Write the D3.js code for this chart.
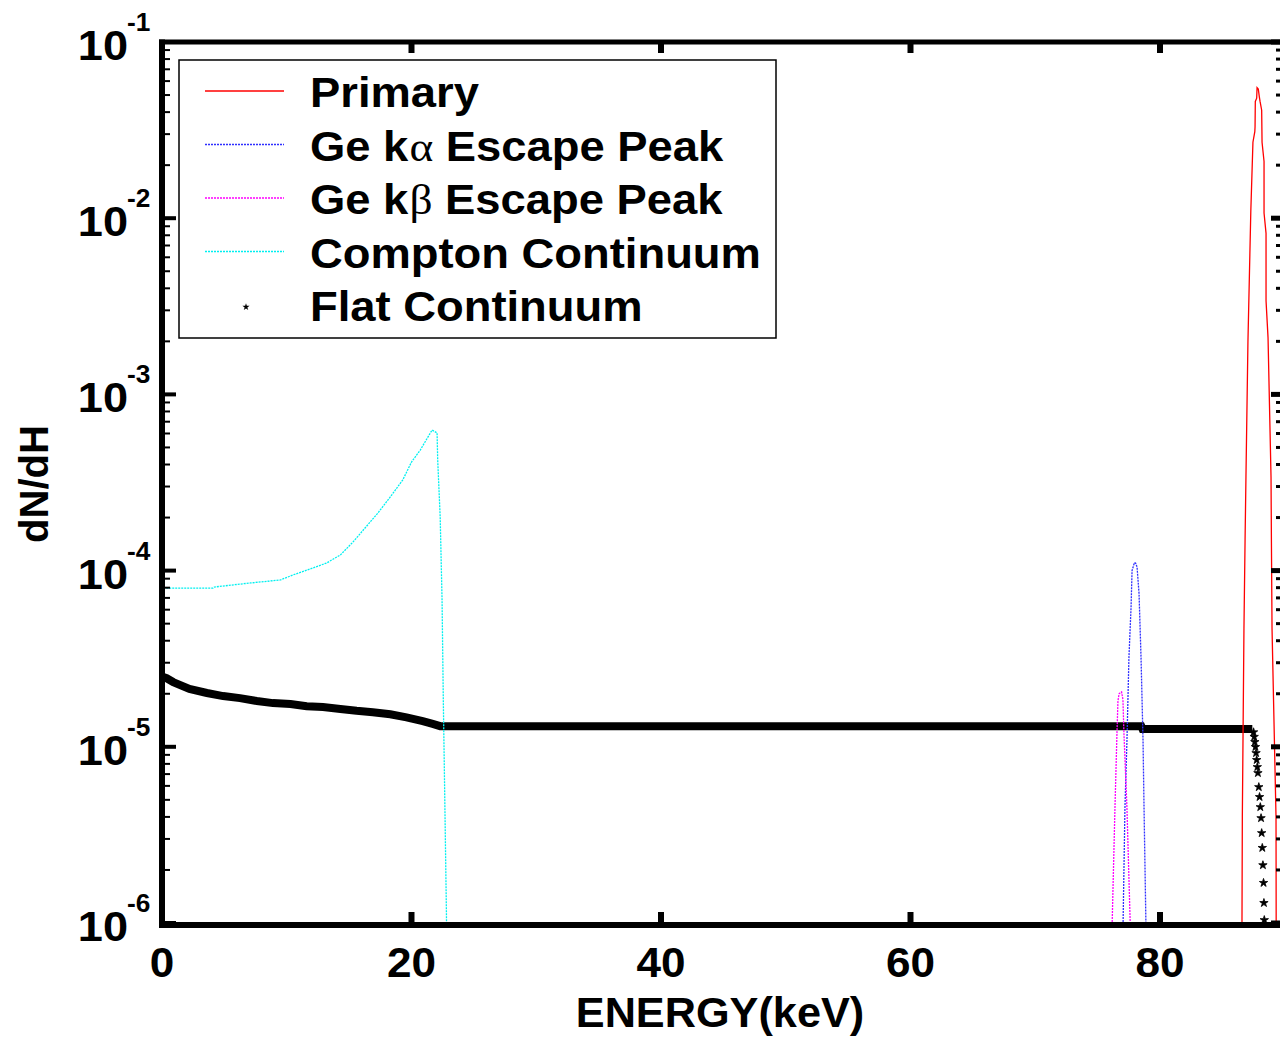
<!DOCTYPE html>
<html><head><meta charset="utf-8">
<script src="https://cdn.jsdelivr.net/npm/d3@7"></script>
<style>
body{margin:0;background:#fff}
svg{display:block}
text{font-family:"Liberation Sans",Arial,sans-serif;font-weight:bold;fill:#000}
</style>
</head><body>
<svg id="c" width="1280" height="1037"></svg>
<script>
// ---------------- data ----------------
const xTickValues = [0, 20, 40, 60, 80];
const yTickExponents = [-1, -2, -3, -4, -5, -6];
const legendLabels = ["Primary", "Ge k|α| Escape Peak", "Ge k|β| Escape Peak", "Compton Continuum", "Flat Continuum"];
const seriesColors = ["#ff0000", "#2f2fff", "#ff00ff", "#00f0f0", "#000000"];

const primaryEnergy = [86.50, 86.57, 86.60, 86.73, 86.82, 86.89, 87.05, 87.28, 87.45, 87.60, 87.62, 87.64, 87.75, 87.78, 87.88, 87.96, 88.02, 88.15, 88.18, 88.34, 88.34, 88.50, 88.50, 88.66, 88.90, 88.93, 88.98, 89.30, 89.32];
const primaryValue  = [5e-7, 9.4e-7, 4.0e-6, 4.7e-5, 1.5e-4, 3.4e-4, 2.0e-3, 1.1e-2, 2.7e-2, 3.1e-2, 3.3e-2, 4.6e-2, 4.8e-2, 5.5e-2, 5.4e-2, 4.9e-2, 4.6e-2, 4.1e-2, 2.7e-2, 2.1e-2, 1.07e-2, 8.2e-3, 3.4e-3, 2.1e-3, 3.4e-4, 1.5e-4, 4.7e-5, 4.0e-6, 5e-7];

const kaEnergy = [76.98, 77.03, 77.19, 77.35, 77.51, 77.68, 77.76, 77.95, 78.05, 78.16, 78.32, 78.48, 78.64, 78.72, 78.88, 78.92];
const kaValue  = [5e-7, 9e-7, 4.5e-6, 1.08e-5, 3.2e-5, 6.2e-5, 1.0e-4, 1.11e-4, 1.1e-4, 1.05e-4, 7.4e-5, 3.2e-5, 1.08e-5, 4.5e-6, 9e-7, 5e-7];

const kbEnergy = [76.12, 76.15, 76.39, 76.55, 76.63, 76.72, 76.92, 77.03, 77.11, 77.35, 77.63, 77.66];
const kbValue  = [5e-7, 9e-7, 4.5e-6, 1.19e-5, 1.82e-5, 2.0e-5, 2.05e-5, 1.85e-5, 1.19e-5, 4.5e-6, 9e-7, 5e-7];

const comptonEnergy = [0.0, 0.02, 0.1, 4.1, 4.2, 7.1, 9.5, 10.5, 12.1, 13.2, 14.3, 15.3, 17.3, 18.3, 19.3, 20.0, 20.7, 21.65, 22.05, 22.1, 22.3, 22.45, 22.55, 22.65, 22.8, 22.85];
const comptonValue  = [2.1e-5, 7.0e-5, 7.96e-5, 7.96e-5, 8.07e-5, 8.51e-5, 8.85e-5, 9.45e-5, 1.035e-4, 1.105e-4, 1.227e-4, 1.45e-4, 2.12e-4, 2.62e-4, 3.27e-4, 4.13e-4, 4.83e-4, 6.28e-4, 6.04e-4, 4.25e-4, 2.01e-4, 6.8e-5, 1.84e-5, 6.2e-6, 1.14e-6, 5e-7];

const flatEnergy = [0.05, 0.37, 0.9, 2.2, 3.6, 4.9, 6.25, 7.6, 8.9, 10.3, 11.6, 12.9, 14.3, 15.6, 16.9, 18.3, 19.6, 20.9, 21.7, 22.3, 50.0, 78.5, 78.6, 87.4];
const flatValue  = [2.5e-5, 2.45e-5, 2.33e-5, 2.13e-5, 2.02e-5, 1.94e-5, 1.89e-5, 1.82e-5, 1.77e-5, 1.75e-5, 1.70e-5, 1.68e-5, 1.64e-5, 1.60e-5, 1.57e-5, 1.53e-5, 1.47e-5, 1.40e-5, 1.35e-5, 1.31e-5, 1.31e-5, 1.31e-5, 1.26e-5, 1.26e-5];

const flatTailEnergy = [87.50, 87.55, 87.60, 87.65, 87.70, 87.75, 87.80, 87.85, 87.92, 87.98, 88.04, 88.10, 88.15, 88.20, 88.25, 88.30, 88.33, 88.36];
const flatTailValue  = [1.21e-5, 1.14e-5, 1.065e-5, 9.98e-6, 9.22e-6, 8.42e-6, 7.68e-6, 7.10e-6, 5.91e-6, 5.19e-6, 4.55e-6, 3.94e-6, 3.24e-6, 2.67e-6, 2.13e-6, 1.69e-6, 1.30e-6, 1.04e-6];

// ---------------- layout ----------------
const svg = d3.select("#c");
const L = 162, R = 1280, T = 42, B = 923;
const x = d3.scaleLinear().domain([0, 90]).range([L, L + 90 * 12.475]);
const y = d3.scaleLog().domain([1e-6, 1e-1]).range([B, T]);

const defs = svg.append("defs");
defs.append("clipPath").attr("id", "clip").append("rect")
  .attr("x", L).attr("y", T).attr("width", R - L).attr("height", B - T);

const plot = svg.append("g").attr("clip-path", "url(#clip)");
const line = d3.line().x(d => x(d[0])).y(d => y(d[1]));
const zip = (a, b) => a.map((v, i) => [v, b[i]]);

// Flat continuum (dense markers -> thick band)
plot.append("path").datum(zip(flatEnergy, flatValue))
  .attr("d", line).attr("fill", "none").attr("stroke", "#000").attr("stroke-width", 8);
const star = d3.symbol().type(d3.symbolStar).size(22);
plot.selectAll(".tail").data(zip(flatTailEnergy, flatTailValue)).join("path")
  .attr("d", star).attr("transform", d => `translate(${x(d[0])},${y(d[1])})`)
  .attr("fill", "#000").attr("stroke", "#000").attr("stroke-width", 0.8);

const peaks = [
  [primaryEnergy, primaryValue, seriesColors[0], null],
  [kaEnergy, kaValue, seriesColors[1], "2,1"],
  [kbEnergy, kbValue, seriesColors[2], "2,1"],
  [comptonEnergy, comptonValue, seriesColors[3], "2,1"]
];
peaks.forEach(([e, v, c, dash]) => {
  plot.append("path").datum(zip(e, v)).attr("d", line)
    .attr("fill", "none").attr("stroke", c).attr("stroke-width", 1.3)
    .attr("stroke-dasharray", dash);
});

// ---------------- axes ----------------
const ax = svg.append("g");
const minorTicks = [];
for (let k = -6; k <= -2; k++) for (let m = 2; m <= 9; m++) minorTicks.push(m * Math.pow(10, k));
const majorTicks = yTickExponents.map(e => Math.pow(10, e));

ax.selectAll(".lmin").data(minorTicks).join("line")
  .attr("x1", L).attr("x2", L + 8).attr("y1", d => y(d)).attr("y2", d => y(d))
  .attr("stroke", "#000").attr("stroke-width", 2);
ax.selectAll(".lmaj").data(majorTicks).join("line")
  .attr("x1", L).attr("x2", L + 14).attr("y1", d => y(d)).attr("y2", d => y(d))
  .attr("stroke", "#000").attr("stroke-width", 4);
ax.selectAll(".rmin").data(minorTicks).join("line")
  .attr("x1", R).attr("x2", R - 4).attr("y1", d => y(d)).attr("y2", d => y(d))
  .attr("stroke", "#000").attr("stroke-width", 3);
ax.selectAll(".rmaj").data(majorTicks).join("line")
  .attr("x1", R).attr("x2", R - 9).attr("y1", d => y(d)).attr("y2", d => y(d))
  .attr("stroke", "#000").attr("stroke-width", 5);
ax.selectAll(".bt").data(xTickValues.slice(1)).join("line")
  .attr("x1", d => x(d)).attr("x2", d => x(d)).attr("y1", B).attr("y2", B - 11)
  .attr("stroke", "#000").attr("stroke-width", 6);
ax.selectAll(".tt").data(xTickValues.slice(1)).join("line")
  .attr("x1", d => x(d)).attr("x2", d => x(d)).attr("y1", T).attr("y2", T + 11)
  .attr("stroke", "#000").attr("stroke-width", 6);
ax.append("line").attr("x1", L).attr("x2", L).attr("y1", T - 2.5).attr("y2", B + 4.5)
  .attr("stroke", "#000").attr("stroke-width", 6);
ax.append("line").attr("x1", L - 3).attr("x2", R).attr("y1", T).attr("y2", T)
  .attr("stroke", "#000").attr("stroke-width", 5);
ax.append("line").attr("x1", L - 3).attr("x2", R).attr("y1", B + 2).attr("y2", B + 2)
  .attr("stroke", "#000").attr("stroke-width", 6);

const sx = 1.05;
yTickExponents.forEach(e => {
  const yy = y(Math.pow(10, e));
  svg.append("text").attr("transform", `translate(128,${yy + 18}) scale(${sx},1)`)
    .attr("text-anchor", "end").attr("font-size", 43).text("10");
  svg.append("text").attr("transform", `translate(127,${yy - 11}) scale(${sx},1)`)
    .attr("text-anchor", "start").attr("font-size", 25).text(String(e));
});
xTickValues.forEach(v => {
  svg.append("text").attr("transform", `translate(${x(v)},977) scale(${sx},1)`)
    .attr("text-anchor", "middle").attr("font-size", 42).text(v);
});
svg.append("text").attr("transform", `translate(720,1027) scale(1.03,1)`)
  .attr("text-anchor", "middle").attr("font-size", 42).text("ENERGY(keV)");
svg.append("text").attr("transform", `translate(48,484) rotate(-90)`)
  .attr("text-anchor", "middle").attr("font-size", 40).text("dN/dH");

// ---------------- legend ----------------
const lg = svg.append("g");
lg.append("rect").attr("x", 179).attr("y", 60).attr("width", 597).attr("height", 278)
  .attr("fill", "#fff").attr("stroke", "#000").attr("stroke-width", 1.5);
legendLabels.forEach((lab, i) => {
  const yy = 107 + i * 53.5;
  if (i < 4) {
    lg.append("line").attr("x1", 205).attr("x2", 284).attr("y1", yy - 16).attr("y2", yy - 16)
      .attr("stroke", seriesColors[i]).attr("stroke-width", 1.5)
      .attr("stroke-dasharray", i === 0 ? null : "2,1");
  } else {
    lg.append("path").attr("d", d3.symbol().type(d3.symbolStar).size(16))
      .attr("transform", `translate(246,${yy - 14})`).attr("fill", "#000");
  }
  const t = lg.append("text").attr("transform", `translate(310,${yy}) scale(1.08,1)`)
    .attr("font-size", 42);
  lab.split("|").forEach((part, j) => {
    const ts = t.append("tspan").text(part);
    if (j === 1) ts.attr("font-family", "Liberation Serif, serif").attr("font-weight", "normal").attr("dx", 1);
  });
});
</script>
</body></html>
